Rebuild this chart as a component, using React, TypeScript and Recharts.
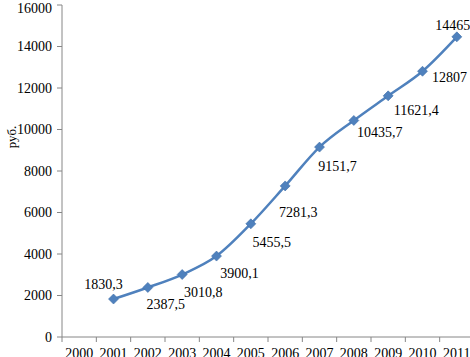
import React from "react";
import { LineChart, Line, XAxis, YAxis, LabelList } from "recharts";

const years = ["2000", "2001", "2002", "2003", "2004", "2005", "2006", "2007", "2008", "2009", "2010", "2011"];
const salary: (number | null)[] = [null, 1830.3, 2387.5, 3010.8, 3900.1, 5455.5, 7281.3, 9151.7, 10435.7, 11621.4, 12807, 14465];
const yTicks = [0, 2000, 4000, 6000, 8000, 10000, 12000, 14000, 16000];

// where each value label sits relative to its marker (centre of text)
const labelOffsets: [number, number][] = [
    [0, 0], [-10, -15], [18, 17], [21, 18], [23, 17], [21, 18],
    [13, 26], [18, 19], [26, 12], [28, 14], [27, 6], [-4, -12],
];

const data = years.map((year, i) => ({ year, value: salary[i] }));

const FONT = '"Liberation Serif", "Times New Roman", serif';
const BLUE = "#4F81BD";
const AXIS = "#868686";
const BAND = (474 - 62) / years.length;

const Diamond = (props: any) => {
    const { cx, cy, value } = props;
    if (value == null || cx == null) return null;
    const r = 5;
    return (
        <polygon
            points={`${cx},${cy - r} ${cx + r},${cy} ${cx},${cy + r} ${cx - r},${cy}`}
            fill={BLUE}
            stroke="#3f6fa8"
            strokeWidth={0.6}
        />
    );
};

const ValueLabel = (props: any) => {
    const { x, y, value, index } = props;
    if (value == null) return null;
    const [dx, dy] = labelOffsets[index] || [0, 0];
    return (
        <text x={x + dx} y={y + dy} dy="0.35em" textAnchor="middle" fontFamily={FONT} fontSize={14} fill="#000">
            {String(value).replace(".", ",")}
        </text>
    );
};

const YearTick = (props: any) => {
    const { x, y, payload } = props;
    const left = x - BAND / 2;
    return (
        <g>
            <line x1={left} y1={y - 7} x2={left} y2={y - 2} stroke={AXIS} strokeWidth={1} />
            <text x={x} y={y + 14} textAnchor="middle" fontFamily={FONT} fontSize={14} fill="#000">
                {payload.value}
            </text>
        </g>
    );
};

const UnitLabel = () => (
    <text
        x={0}
        y={0}
        transform="translate(11,137) rotate(-90)"
        dominantBaseline="central"
        textAnchor="middle"
        fontFamily={FONT}
        fontSize={13}
        fill="#000"
    >
        руб.
    </text>
);

const App: React.FC = () => {
    return (
        <div style={{ position: "absolute", left: 0, top: 0, width: 470, height: 357, overflow: "hidden", background: "#fff" }}>
            <LineChart width={474} height={357} data={data} margin={{ top: 5, right: 0, bottom: 0, left: 0 }}>
                <XAxis
                    dataKey="year"
                    interval={0}
                    height={20}
                    stroke={AXIS}
                    padding={{ left: BAND / 2, right: BAND / 2 }}
                    tickLine={false}
                    tickSize={5}
                    tickMargin={2}
                    tick={<YearTick />}
                />
                <YAxis
                    domain={[0, 16000]}
                    ticks={yTicks}
                    width={62}
                    stroke={AXIS}
                    tickSize={5}
                    tickMargin={5}
                    tick={{ fill: "#000", fontSize: 14, fontFamily: FONT }}
                    label={<UnitLabel />}
                />
                <Line
                    type="monotone"
                    dataKey="value"
                    stroke={BLUE}
                    strokeWidth={2.5}
                    dot={<Diamond />}
                    activeDot={false}
                    connectNulls={false}
                    isAnimationActive={false}
                >
                    <LabelList dataKey="value" content={<ValueLabel />} />
                </Line>
            </LineChart>
        </div>
    );
};

export default App;
